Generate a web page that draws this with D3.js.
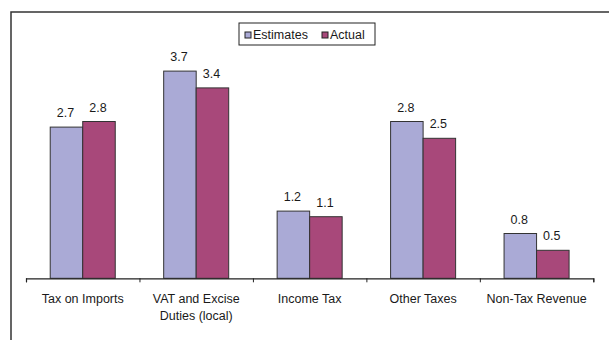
<!DOCTYPE html>
<html>
<head>
<meta charset="UTF-8" />
<title>Estimates vs Actual</title>
<script src="https://cdn.jsdelivr.net/npm/d3@7/dist/d3.min.js"></script>
<style>
body{margin:0;background:#fff;}
text{font-family:Arial,"Liberation Sans",sans-serif;fill:#1a1a1a;}
</style>
</head>
<body>
<div id="chart"></div>
<script type="text/javascript">
var w=609,h=340;

// data
var categories=['Tax on Imports','VAT and Excise|Duties (local)','Income Tax','Other Taxes','Non-Tax Revenue'];
var seriesNames=['Estimates','Actual'];
var estimates=[2.7,3.7,1.2,2.8,0.8];
var actual=[2.8,3.4,1.1,2.5,0.5];
var colors=['#aaaad6','#a8487a'];

var svg=d3.select('#chart')
          .append('svg')
          .attr('width',w)
          .attr('height',h);

// outer frame (cut off on right and bottom)
svg.append('rect')
   .attr('x',11).attr('y',12)
   .attr('width',700).attr('height',400)
   .attr('fill','none')
   .attr('stroke','#333')
   .attr('stroke-width',1.5);

var left=26,right=593.3,base=278.3;

var x0=d3.scaleBand()
         .domain(categories)
         .range([left,right])
         .paddingInner(0).paddingOuter(0);

var x1=d3.scaleBand()
         .domain(seriesNames)
         .range([0,x0.bandwidth()])
         .paddingInner(0).paddingOuter(0.745);

var y=d3.scaleLinear()
        .domain([0,4])
        .range([base,base-224]);

var rows=categories.map(function(c,i){
  return {cat:c,vals:[{s:'Estimates',v:estimates[i]},{s:'Actual',v:actual[i]}]};
});

var groups=svg.selectAll('g.cat')
              .data(rows)
              .enter()
              .append('g')
              .attr('class','cat')
              .attr('transform',function(d){return 'translate('+x0(d.cat)+',0)';});

groups.selectAll('rect')
      .data(function(d){return d.vals;})
      .enter()
      .append('rect')
      .attr('x',function(d){return x1(d.s);})
      .attr('y',function(d){return y(d.v);})
      .attr('width',x1.bandwidth())
      .attr('height',function(d){return base-y(d.v);})
      .attr('fill',function(d,i){return colors[i];})
      .attr('stroke','#333')
      .attr('stroke-width',1);

groups.selectAll('text.val')
      .data(function(d){return d.vals;})
      .enter()
      .append('text')
      .attr('class','val')
      .attr('x',function(d){return x1(d.s)+x1.bandwidth()/2-1;})
      .attr('y',function(d){return y(d.v)-10;})
      .attr('text-anchor','middle')
      .style('font-size','12.5px')
      .text(function(d){return d.v.toFixed(1);});

// category axis, ticks between categories
var xb=d3.scaleLinear().domain([0,categories.length]).range([left,right]);
var axis=svg.append('g')
            .attr('transform','translate(0,'+base+')')
            .call(d3.axisBottom(xb).ticks(5).tickValues(d3.range(categories.length+1)).tickSize(4).tickFormat(''));
axis.select('.domain').attr('stroke','#222').attr('stroke-width',1.2);
axis.selectAll('.tick line').attr('stroke','#222');

var labels=svg.selectAll('text.cat')
              .data(categories)
              .enter()
              .append('text')
              .attr('class','cat')
              .attr('text-anchor','middle')
              .style('font-size','12.5px')
              .attr('transform',function(d){return 'translate('+(x0(d)+x0.bandwidth()/2)+',302.5)';});
labels.selectAll('tspan')
      .data(function(d){return d.split('|');})
      .enter()
      .append('tspan')
      .attr('x',0)
      .attr('y',function(d,i){return i*17;})
      .text(function(d){return d;});

// legend
var lg=svg.append('g').attr('transform','translate(239,23)');
lg.append('rect')
  .attr('width',136).attr('height',22)
  .attr('fill','#fff').attr('stroke','#222').attr('stroke-width',1);
var lx=[6,83];
seriesNames.forEach(function(s,i){
  lg.append('rect')
    .attr('x',lx[i]).attr('y',9)
    .attr('width',6).attr('height',6)
    .attr('fill',colors[i]).attr('stroke','#222');
  lg.append('text')
    .attr('x',lx[i]+8).attr('y',15.5)
    .style('font-size','12.5px')
    .text(s);
});
</script>
</body>
</html>
